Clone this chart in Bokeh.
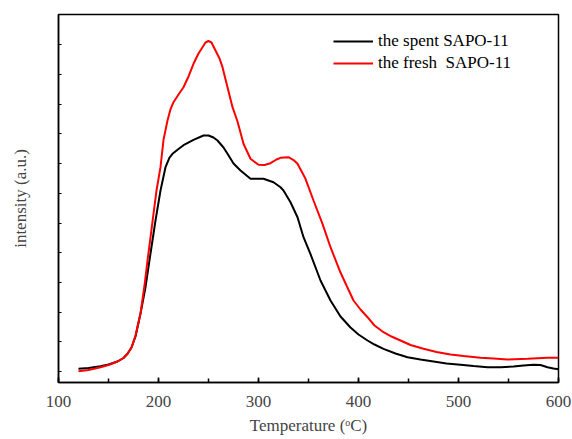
from bokeh.plotting import figure
from bokeh.models import Range1d, FixedTicker, SingleIntervalTicker, Legend, LegendItem
from bokeh.embed import file_html
from bokeh.resources import INLINE

# Temperature (°C) and intensity (a.u.)
spent_T = [120, 130, 142, 150, 159, 165, 169, 173, 177, 182, 187, 192, 197, 202, 207, 211, 214,
           220, 225, 235, 245, 250, 255, 259, 265, 269, 275, 282, 292, 305, 315, 322, 325,
           332, 339, 345, 352, 362, 372, 382, 392, 400, 409, 416, 425, 437, 449, 462, 475,
           488, 502, 515, 529, 542, 555, 565, 575, 582, 589, 595, 600]
spent_I = [90, 118, 178, 236, 337, 455, 596, 808, 1178, 1953, 2838, 3973, 5084, 6094, 6879, 7205, 7330,
           7490, 7620, 7800, 7946, 7946, 7879, 7778, 7542, 7330, 7003, 6768, 6488, 6488, 6374, 6205, 6094,
           5700, 5195, 4522, 3950, 3064, 2391, 1852, 1481, 1246, 1044, 909, 764, 606, 481, 404, 337,
           269, 226, 185, 145, 141, 168, 202, 226, 219, 145, 101, 77]

fresh_T = [120, 130, 142, 150, 159, 165, 169, 173, 177, 182, 186, 189, 192, 195, 198, 202, 205,
           209, 212, 215, 220, 225, 230, 235, 240, 244, 247, 250, 253, 257, 261, 264, 269,
           274, 279, 285, 292, 300, 306, 312, 318, 322, 330, 335, 339, 347, 355, 364, 372,
           382, 388, 395, 402, 409, 416, 425, 433, 442, 452, 465, 478, 492, 505, 522, 535,
           549, 569, 589, 600]
fresh_I = [10, 51, 145, 219, 337, 455, 596, 808, 1212, 1953, 2896, 3737, 4512, 5310, 6094, 6879, 7800,
           8450, 8830, 9067, 9327, 9572, 9933, 10360, 10707, 10919, 11077, 11128, 11077, 10808, 10539, 10246, 9572,
           8899, 8418, 7667, 7162, 6960, 6953, 7014, 7138, 7195, 7215, 7121, 6993, 6488, 5758, 4973, 4185,
           3333, 2896, 2391, 2088, 1828, 1549, 1323, 1178, 1044, 892, 764, 657, 572, 522, 461, 438,
           404, 428, 461, 461]

y_ticks = [0, 1000, 2000, 3000, 4000, 5000, 6000, 7000, 8000, 9000, 10000, 11000]

labels = ["the spent SAPO-11", "the fresh \u00a0SAPO-11"]
colors = ["#000000", "#ff0000"]

FONT = "Liberation Serif"

p = figure(width=572, height=439, output_backend="svg", toolbar_location=None,
           x_range=Range1d(100, 600), y_range=Range1d(-370, 12020),
           min_border_left=58, min_border_right=14, min_border_top=14, min_border_bottom=57)

p.background_fill_color = "white"
p.border_fill_color = "white"
p.outline_line_color = "black"
p.outline_line_width = 1.5
p.xgrid.visible = False
p.ygrid.visible = False

r_spent = p.line(spent_T, spent_I, line_color=colors[0], line_width=2)
r_fresh = p.line(fresh_T, fresh_I, line_color=colors[1], line_width=2)

legend = Legend(items=[LegendItem(label=labels[0], renderers=[r_spent]),
                       LegendItem(label=labels[1], renderers=[r_fresh])],
                location=(275, 308))
legend.padding = 0
legend.spacing = 0
legend.margin = 0
legend.glyph_width = 40
legend.glyph_height = 22
legend.label_height = 22
legend.label_standoff = 5
legend.border_line_color = None
legend.background_fill_alpha = 0
legend.label_text_font = FONT
legend.label_text_font_size = "17px"
legend.label_text_color = "black"
p.add_layout(legend, "center")

xa = p.xaxis[0]
xa.ticker = SingleIntervalTicker(interval=100, num_minor_ticks=2)
xa.axis_label = "Temperature (\u1d52C)"
xa.axis_label_text_font = FONT
xa.axis_label_text_font_style = "normal"
xa.axis_label_text_font_size = "17px"
xa.axis_label_standoff = 6
xa.major_label_text_font = FONT
xa.major_label_text_font_size = "17px"
xa.major_label_standoff = 13
xa.major_tick_in = 5
xa.major_tick_out = 0
xa.minor_tick_in = 4
xa.minor_tick_out = 0
xa.axis_line_width = 1.5
xa.major_tick_line_width = 1.5
xa.minor_tick_line_width = 1.5

ya = p.yaxis[0]
ya.ticker = FixedTicker(ticks=y_ticks, minor_ticks=[])
ya.major_label_overrides = {t: "" for t in y_ticks}
ya.axis_label = "intensity (a.u.)"
ya.axis_label_text_font = FONT
ya.axis_label_text_font_style = "normal"
ya.axis_label_text_font_size = "17px"
ya.axis_label_standoff = 29
ya.major_tick_in = 3
ya.major_tick_out = 0
ya.minor_tick_in = 0
ya.minor_tick_out = 0
ya.axis_line_width = 1.5
ya.major_tick_line_width = 1

open("out.html", "w").write(file_html(p, INLINE))
